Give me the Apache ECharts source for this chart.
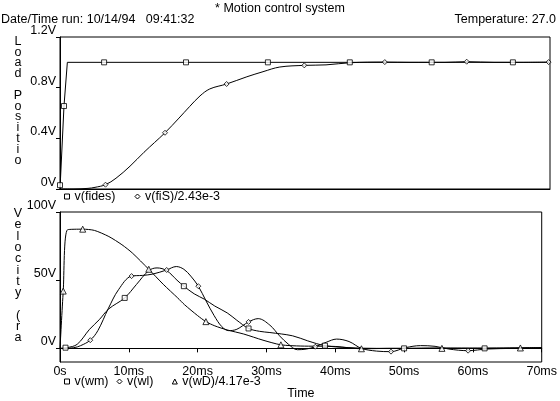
<!DOCTYPE html>
<html lang="en" style="height: 100%">
<head>
<meta charset="utf-8">
<title>Motion control system</title>
</head>
<body style="height: 100%; margin: 0; background: #fff">
<div id="container" style="width: 560px; height: 401px"></div>
<script src="https://cdn.jsdelivr.net/npm/echarts@6/dist/echarts.min.js"></script>
<script>
// top plot: load position (t in ms, value in V)
var fidesLine = [[0, 0], [0.57, 0.655], [1.05, 1.0], [70, 1.0]];
var fidesMarks = [[0, 0.03], [0.57, 0.655], [6.3, 1], [18, 1], [29.7, 1], [41.4, 1], [53.1, 1], [64.7, 1]];
var fiSLine = [[0, 0], [2, 0], [4, 0.005], [5, 0.013], [6.5, 0.034], [8, 0.085], [10, 0.18], [12, 0.29],
  [15, 0.444], [17, 0.56], [18.5, 0.65], [20, 0.735], [21.4, 0.79], [23.8, 0.829], [26.7, 0.886],
  [29, 0.926], [31.4, 0.963], [34.9, 0.976], [38, 0.98], [41.5, 0.997], [46.4, 1.002], [50, 1.0],
  [55, 1.0], [58.1, 1.005], [62, 1.0], [66, 1.0], [70, 1.002]];
var fiSMarks = [[6.5, 0.034], [15, 0.444], [23.8, 0.829], [34.9, 0.976], [46.4, 1.002], [58.1, 1.005], [69.8, 1.002]];

// bottom plot: velocity
var wmLine = [[0, 0], [1, 0.5], [2.5, 3], [4.3, 14], [5.7, 21], [7.1, 29], [9.4, 37], [11.1, 46.8],
  [12.9, 57], [14.1, 59], [15.5, 57], [17, 50], [18, 45.6], [19.5, 40], [21, 36], [22.5, 31],
  [24.3, 26], [25.7, 20.6], [27.4, 14.6], [29, 12.5], [30.5, 11.6], [33.8, 9.2], [36, 5.5],
  [38.5, 2], [42, 0.5], [46, 0], [50, 0], [55, 0.3], [61.7, 0], [66, 0.3], [70, 0.5]];
var wmMarks = [[0.8, 0.5], [9.4, 37], [18, 45.6], [27.4, 14.6], [38.5, 2], [50, 0], [61.7, 0]];
var wlLine = [[0, 0], [2, 0.5], [3, 2], [4.4, 6], [5.5, 13], [7, 29], [8.5, 43], [10.4, 53], [12, 53.5],
  [13.5, 54.5], [15.5, 57.5], [16.9, 60], [18, 58], [19, 53], [20.1, 45.6], [21.2, 35], [22.4, 24],
  [23.5, 16], [24.5, 13], [25.7, 14], [27.4, 19.4], [28.8, 21.8], [30.5, 17], [31.9, 9.2], [33.2, 3],
  [34.5, -1], [35.8, -0.5], [37.1, 1.2], [38.7, 4.5], [40.2, 6.8], [42, 5], [43.8, 0], [46, -2],
  [48.1, -2.4], [50.2, 0.5], [52.4, 2], [54.5, 1.5], [56.5, -0.5], [59.3, -1.7], [62, -0.5], [66, 0], [70, 0.3]];
var wlMarks = [[4.4, 6], [10.4, 53], [15.5, 57.5], [20.1, 45.6], [27.4, 19.4], [37.1, 1.2], [48.1, -2.4], [59.3, -1.7]];
var wDLine = [[0, 0], [0.47, 42], [1.1, 87], [3.3, 87.4], [5, 86.5], [7.1, 82], [9, 76], [10.5, 70],
  [12.9, 58], [15, 47], [17.1, 37], [18.1, 32], [20, 24], [21.2, 19.6], [22.5, 16.5], [24.3, 13.5],
  [26.7, 10.5], [29.5, 6], [32.1, 2.6], [35, 1.7], [40, 1.4], [43.8, -0.3], [48, 0], [55.5, 0],
  [60, 0.2], [66.9, 0.3], [70, 0.5]];
var wDMarks = [[0.47, 42], [3.3, 87.4], [12.9, 58], [21.2, 19.6], [32.1, 2.6], [43.8, -0.3], [55.5, 0], [66.9, 0.3]];

// tick labels
var timeTicks = ['0s', '10ms', '20ms', '30ms', '40ms', '50ms', '60ms', '70ms'];
var posTicks = ['0V', '0.4V', '0.8V', '1.2V'];
var velTickValues = [0, 50, 100];
var velTicks = ['0V', '50V', '100V'];

var FONT = "'Liberation Sans', Arial, sans-serif";
var FS = 12.5;
var INK = '#000';
var txt = { fontFamily: FONT, fontSize: FS, color: INK };

function lineSeries(name, data, xi, smooth) {
  return {
    name: name, type: 'line', xAxisIndex: xi, yAxisIndex: xi, data: data,
    showSymbol: false, smooth: smooth, animation: false,
    lineStyle: { color: INK, width: 1 }, itemStyle: { color: INK }, z: 2
  };
}
function markSeries(name, data, xi, symbol, size) {
  return {
    name: name, type: 'scatter', xAxisIndex: xi, yAxisIndex: xi, data: data,
    symbol: symbol, symbolSize: size, animation: false,
    itemStyle: { color: '#fff', borderColor: INK, borderWidth: 1 }, z: 3
  };
}
function legendItem(name, icon) {
  return { name: name, icon: icon, itemStyle: { color: '#fff', borderColor: INK, borderWidth: 1 } };
}
function yAxisBase(grid) {
  return {
    type: 'value', gridIndex: grid,
    axisLine: { show: true, lineStyle: { color: INK } },
    axisTick: { show: true, length: 4, lineStyle: { color: INK } },
    axisLabel: Object.assign({ verticalAlign: 'bottom', margin: 4 }, txt),
    splitLine: { show: false }
  };
}

var dom = document.getElementById('container');
var myChart = echarts.init(dom, null, { renderer: 'canvas' });

var yTop = yAxisBase(0);
yTop.min = 0; yTop.max = 1.2; yTop.interval = 0.4;
yTop.axisLabel.formatter = function (v) { return posTicks[Math.round(v / 0.4)]; };

var yBot = yAxisBase(1);
yBot.min = -10; yBot.max = 100;
yBot.axisTick.customValues = velTickValues;
yBot.axisLabel.customValues = velTickValues;
yBot.axisLabel.formatter = function (v) { return velTicks[velTickValues.indexOf(v)]; };

var option = {
  animation: false,
  grid: [
    { left: 60, right: 10, top: 37, height: 152, show: true, borderColor: INK, borderWidth: 1 },
    { left: 60, right: 10, top: 212, height: 150, show: true, borderColor: INK, borderWidth: 1 }
  ],
  xAxis: [
    {
      type: 'value', gridIndex: 0, min: 0, max: 70, interval: 10,
      axisLine: { lineStyle: { color: INK } }, axisTick: { show: false },
      axisLabel: { show: false }, splitLine: { show: false }
    },
    {
      type: 'value', gridIndex: 1, min: 0, max: 70, interval: 10,
      axisLine: { lineStyle: { color: INK } },
      axisTick: { show: true, length: 4, lineStyle: { color: INK } },
      axisLabel: Object.assign({ margin: 3, formatter: function (v) { return timeTicks[Math.round(v / 10)]; } }, txt),
      splitLine: { show: false },
      name: 'Time', nameLocation: 'middle', nameGap: 25, nameTextStyle: txt
    }
  ],
  yAxis: [yTop, yBot],
  legend: [
    {
      left: 64, top: 190, itemWidth: 5, itemHeight: 5, itemGap: 19, padding: 0,
      textStyle: txt, selectedMode: false,
      data: [legendItem('v(fides)', 'rect'), legendItem('v(fiS)/2.43e-3', 'diamond')]
    },
    {
      left: 64, top: 375, itemWidth: 5, itemHeight: 5, itemGap: 8, padding: 0,
      textStyle: txt, selectedMode: false,
      formatter: function (n) { return n === 'v(wl)' ? n + '   ' : n; },
      data: [legendItem('v(wm)', 'rect'), legendItem('v(wl)', 'diamond'), legendItem('v(wD)/4.17e-3', 'triangle')]
    }
  ],
  graphic: [
    { type: 'text', left: 'center', top: 2, style: { text: '* Motion control system', font: FS + 'px ' + FONT, fill: INK } },
    { type: 'text', left: 1, top: 13, style: { text: 'Date/Time run: 10/14/94   09:41:32', font: FS + 'px ' + FONT, fill: INK } },
    { type: 'text', right: 4, top: 13, style: { text: 'Temperature: 27.0', font: FS + 'px ' + FONT, fill: INK } },
    { type: 'text', x: 18, y: 36, style: { text: 'Load Positio'.split('').join('\n'), font: FS + 'px ' + FONT, fill: INK, align: 'center', lineHeight: 10.8 } },
    { type: 'text', x: 18, y: 208, style: { text: 'Velocity (ra'.split('').join('\n'), font: FS + 'px ' + FONT, fill: INK, align: 'center', lineHeight: 11.3 } }
  ],
  series: [
    lineSeries('v(fides)', fidesLine, 0, false),
    markSeries('v(fides)', fidesMarks, 0, 'rect', 5),
    lineSeries('v(fiS)/2.43e-3', fiSLine, 0, 0.35),
    markSeries('v(fiS)/2.43e-3', fiSMarks, 0, 'diamond', 5),
    lineSeries('v(wm)', wmLine, 1, 0.35),
    markSeries('v(wm)', wmMarks, 1, 'rect', 5),
    lineSeries('v(wl)', wlLine, 1, 0.35),
    markSeries('v(wl)', wlMarks, 1, 'diamond', 5),
    lineSeries('v(wD)/4.17e-3', wDLine, 1, 0.25),
    markSeries('v(wD)/4.17e-3', wDMarks, 1, 'triangle', 6)
  ]
};

if (option && typeof option === 'object') {
  myChart.setOption(option);
}
window.addEventListener('resize', myChart.resize);
</script>
</body>
</html>
